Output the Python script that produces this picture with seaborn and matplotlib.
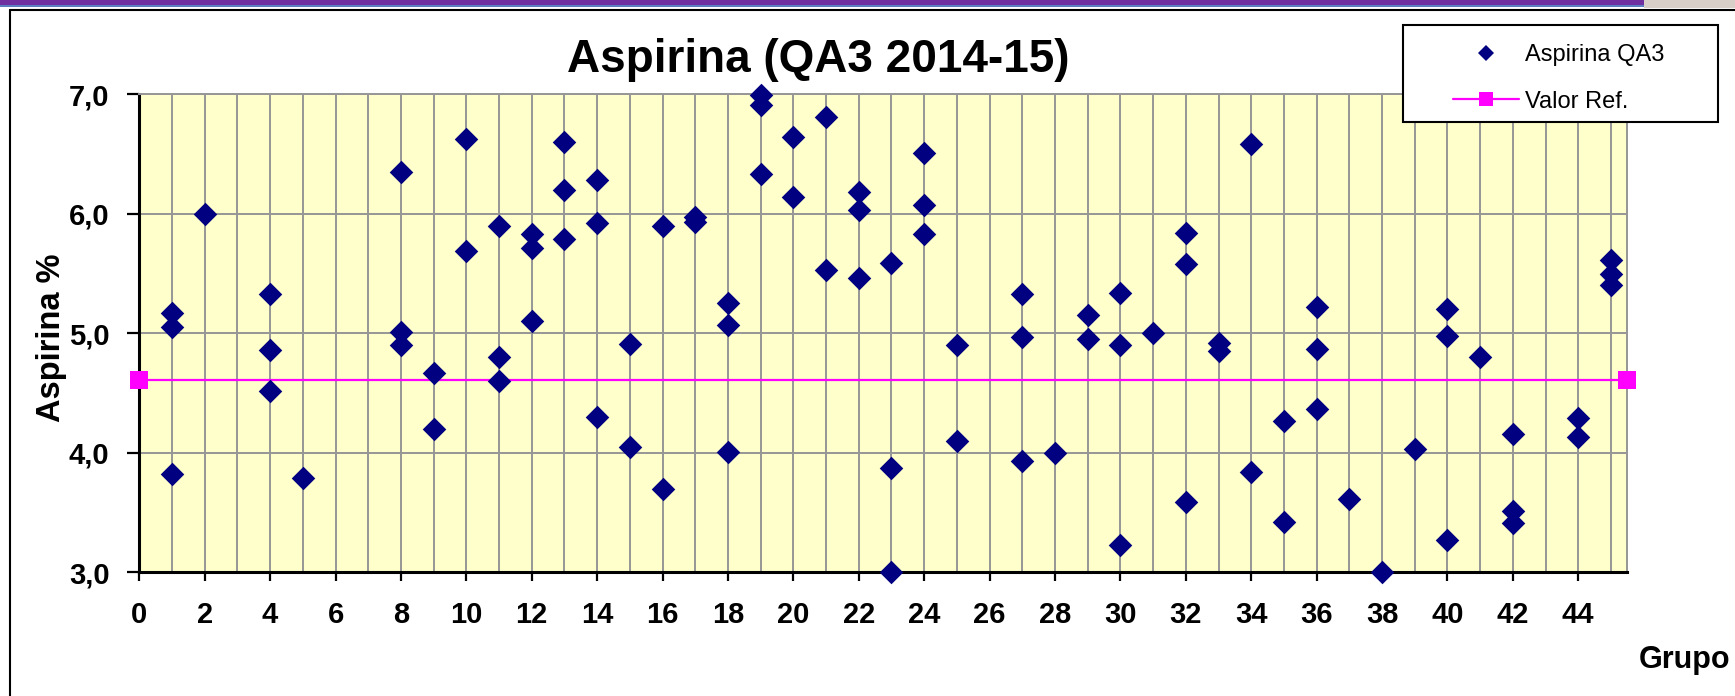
import matplotlib
matplotlib.use("Agg")
import matplotlib.pyplot as plt
import seaborn as sns
from matplotlib.lines import Line2D
from matplotlib.patches import Rectangle
from matplotlib.ticker import FixedLocator

# Resultados por grupo (QA3 2014-15)
grupo = [1, 1, 1, 2, 4, 4, 4, 5,
         8, 8, 8, 9, 9, 10, 10, 11, 11, 11,
         12, 12, 12, 13, 13, 13, 14, 14, 14, 15, 15,
         16, 16, 17, 17, 18, 18, 18, 19, 19, 19,
         20, 20, 21, 21, 22, 22, 22, 23, 23, 23,
         24, 24, 24, 25, 25, 27, 27, 27, 28, 29, 29,
         30, 30, 30, 31, 32, 32, 32, 33, 33, 34, 34,
         35, 35, 36, 36, 36, 37, 38, 39, 40, 40, 40,
         41, 42, 42, 42, 44, 44, 45, 45, 45]
aspirina = [5.17, 5.05, 3.82, 6.00, 5.33, 4.86, 4.52, 3.79,
            6.35, 5.01, 4.90, 4.67, 4.20, 6.63, 5.69, 5.90, 4.80, 4.60,
            5.83, 5.71, 5.10, 6.60, 6.20, 5.79, 6.28, 5.92, 4.30, 4.91, 4.05,
            5.90, 3.70, 5.97, 5.93, 5.25, 5.07, 4.01, 6.99, 6.91, 6.33,
            6.64, 6.14, 6.81, 5.53, 6.18, 6.03, 5.46, 5.59, 3.87, 3.00,
            6.51, 6.07, 5.83, 4.90, 4.10, 5.33, 4.97, 3.93, 4.00, 5.15, 4.95,
            5.34, 4.90, 3.23, 5.00, 5.84, 5.58, 3.59, 4.92, 4.85, 6.58, 3.84,
            4.27, 3.42, 5.22, 4.87, 4.37, 3.61, 3.00, 4.03, 5.20, 4.98, 3.27,
            4.80, 4.16, 3.51, 3.41, 4.29, 4.13, 5.61, 5.50, 5.40]

ref_x = [0, 45.5]
ref_y = [4.61, 4.61]

y_ticks = [3, 4, 5, 6, 7]
y_labels = ["3,0", "4,0", "5,0", "6,0", "7,0"]
x_ticks = list(range(0, 45, 2))
x_minor = list(range(1, 46, 2))

NAVY = "#000080"
MAGENTA = "#FF00FF"
GRID = "#969696"

sns.set_style("white")
plt.rcParams["font.family"] = ["Liberation Sans", "DejaVu Sans"]
plt.rcParams["text.color"] = "black"
plt.rcParams["axes.labelcolor"] = "black"
plt.rcParams["xtick.color"] = "black"
plt.rcParams["ytick.color"] = "black"

fig = plt.figure(figsize=(17.35, 6.96), dpi=100)
W, H = 1735, 696
ax = fig.add_axes([139.3 / W, 1 - 572.3 / H, (1627.3 - 139.3) / W, (572.3 - 94.3) / H])
ax.set_facecolor("#FFFFCC")

sns.lineplot(x=ref_x, y=ref_y, ax=ax, color=MAGENTA, lw=1.6, marker="s",
             markersize=13.5, markeredgewidth=0, clip_on=False, zorder=3)
sns.scatterplot(x=grupo, y=aspirina, ax=ax, marker="D", s=144, color=NAVY,
                linewidth=0, clip_on=False, zorder=4, legend=False)

ax.set_xlim(0, 45.5)
ax.set_ylim(3, 7)
ax.xaxis.set_major_locator(FixedLocator(x_ticks))
ax.xaxis.set_minor_locator(FixedLocator(x_minor))
ax.set_xticklabels([str(t) for t in x_ticks])
ax.set_yticks(y_ticks)
ax.set_yticklabels(y_labels)

ax.grid(True, which="both", color=GRID, lw=1.4, zorder=0)
ax.set_axisbelow(True)
for s in ["top", "right"]:
    ax.spines[s].set_color(GRID)
    ax.spines[s].set_linewidth(1.4)
for s in ["left", "bottom"]:
    ax.spines[s].set_color("black")
    ax.spines[s].set_linewidth(2.2)

ax.tick_params(axis="x", which="major", direction="out", length=6.5, width=1.6,
               color="black", labelcolor="black", pad=14, labelsize=21, bottom=True)
ax.tick_params(axis="x", which="minor", length=0)
ax.tick_params(axis="y", direction="out", length=8.5, width=1.6,
               color="black", labelcolor="black", pad=13, labelsize=21, left=True)
for lab in ax.get_xticklabels() + ax.get_yticklabels():
    lab.set_fontweight("bold")

ax.set_ylabel("Aspirina %", fontsize=23.5, fontweight="bold", va="center", color="black")
ax.yaxis.set_label_coords(-0.059, 0.49)
ax.set_xlabel("Grupo", fontsize=22, fontweight="bold", va="center", color="black")
ax.xaxis.set_label_coords(1.0385, -0.183)

fig.text(818 / W, 1 - 72 / H, "Aspirina (QA3 2014-15)", fontsize=33,
         fontweight="bold", ha="center", va="baseline", color="black")

# marco del gráfico y banda superior de la diapositiva
fig.add_artist(Rectangle((0, 1 - 5 / H), 1644 / W, 5 / H, transform=fig.transFigure,
                         color="#7030A0", lw=0))
fig.add_artist(Rectangle((0, 1 - 7 / H), 1644 / W, 2 / H, transform=fig.transFigure,
                         color="#5B7FC0", lw=0))
fig.add_artist(Rectangle((1644 / W, 1 - 8 / H), 91 / W, 8 / H, transform=fig.transFigure,
                         color="#D8CFC8", lw=0))
fig.add_artist(Line2D([10 / W, 1], [1 - 9.5 / H, 1 - 9.5 / H], transform=fig.transFigure,
                      color="black", lw=1.5))
fig.add_artist(Line2D([10 / W, 10 / W], [0, 1 - 9.5 / H], transform=fig.transFigure,
                      color="black", lw=1.5))

# leyenda
fig.add_artist(Rectangle((1402.6 / W, 1 - 122 / H), (1718 - 1402.6) / W, 97 / H,
                         transform=fig.transFigure, facecolor="white",
                         edgecolor="black", lw=1.5, zorder=4))
handles = [
    Line2D([], [], ls="none", marker="D", markersize=8.5, color=NAVY, markeredgewidth=0),
    Line2D([], [], color=MAGENTA, lw=1.6, marker="s", markersize=10.5, markeredgewidth=0),
]
fig.legend(handles, ["Aspirina QA3", "Valor Ref."], loc="upper left",
           bbox_to_anchor=(1453 / W, 1 - 44.5 / H), borderaxespad=0, borderpad=0,
           frameon=False, fontsize=17, handlelength=2.8, handletextpad=0.25,
           labelspacing=1.02)

fig.savefig("out.png", dpi=100)
